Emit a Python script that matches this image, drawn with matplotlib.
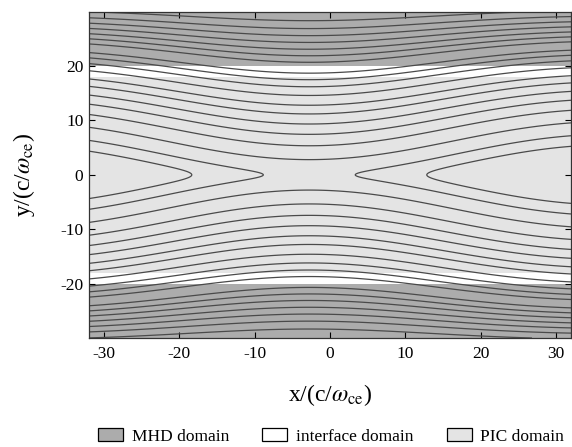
import matplotlib
matplotlib.use("Agg")
import matplotlib.pyplot as plt
import numpy as np
from matplotlib.patches import Patch

plt.rcParams["font.family"] = ["Liberation Serif", "DejaVu Serif"]
plt.rcParams["mathtext.fontset"] = "stix"
plt.rcParams["axes.unicode_minus"] = False

# y where the field lines cross the X-line column (upper half, mirrored below)
xline_crossing_y = [2.8, 5.35, 7.45, 9.35, 11.2, 12.8, 14.6, 16.2, 17.5, 18.7,
                    20.7, 21.9, 23.1, 24.35, 25.6, 26.9, 28.35]
# noses (at y = 0) of the field lines that do not go over the X-point
island_tip_x = [-18.4, -8.8, 3.4, 12.8]

domain_labels = ["MHD domain", "interface domain", "PIC domain"]
domain_colors = ["#acacac", "white", "#e4e4e4"]
pic_edge = 18.0   # |y| where PIC domain ends
mhd_edge = 20.0   # |y| where MHD domain starts

x_ticks = [-30, -20, -10, 0, 10, 20, 30]
y_ticks = [-20, -10, 0, 10, 20]

# shape of the flux function (Harris sheet + X-point perturbation)
sheet_width = 1.0
perturb_amp = 3.7
wavelength = 80.0
decay_length = 70.0
x_point = sum(island_tip_x) / len(island_tip_x)


def flux(x, y):
    sheet = sheet_width * np.log(np.cosh(y / sheet_width))
    pert = perturb_amp * np.cos(2 * np.pi * (x - x_point) / wavelength) * np.cos(np.pi * y / decay_length)
    return sheet + pert


half_tips = [(island_tip_x[3] - island_tip_x[0]) / 2, (island_tip_x[2] - island_tip_x[1]) / 2]
levels = sorted([float(flux(x_point + d, 0.0)) for d in half_tips]
                + [float(flux(x_point, y)) for y in xline_crossing_y])

xs = np.linspace(-32, 32, 801)
ys = np.linspace(-30, 30, 751)
X, Y = np.meshgrid(xs, ys)
psi = flux(X, Y)

fig = plt.figure(figsize=(5.72, 4.47), dpi=100)
ax = fig.add_axes([89 / 572, 1 - 338 / 447, (571 - 89) / 572, (338 - 11.7) / 447])

ax.axhspan(mhd_edge, 30, color=domain_colors[0], lw=0, zorder=0)
ax.axhspan(-30, -mhd_edge, color=domain_colors[0], lw=0, zorder=0)
ax.axhspan(-pic_edge, pic_edge, color=domain_colors[2], lw=0, zorder=0)

ax.contour(X, Y, psi, levels=levels, colors="#4a4a4a", linewidths=0.9, linestyles="solid", zorder=2)

ax.set_xlim(-32, 32)
ax.set_ylim(-30, 30)
ax.set_xticks(x_ticks)
ax.set_yticks(y_ticks)
ax.tick_params(direction="in", top=True, right=True, length=4, width=0.8, labelsize=12.5)
ax.tick_params(axis="x", pad=6)
ax.tick_params(axis="y", pad=4)
for sp in ax.spines.values():
    sp.set_linewidth(0.9)
    sp.set_color("#333333")

ax.set_xlabel(r"x/(c/$\omega_{\mathrm{ce}}$)", fontsize=17)
ax.set_ylabel(r"y/(c/$\omega_{\mathrm{ce}}$)", fontsize=17)
ax.xaxis.set_label_coords(0.5, -0.135)
ax.yaxis.set_label_coords(-0.108, 0.5)

handles = [Patch(facecolor=c, edgecolor="black", linewidth=0.9) for c in domain_colors]
fig.legend(handles, domain_labels, loc="center left", bbox_to_anchor=(98 / 572, 0.024),
           ncol=3, frameon=False, fontsize=12.5, borderpad=0, borderaxespad=0,
           handlelength=1.45, handleheight=0.8, handletextpad=0.5, columnspacing=1.9)

fig.savefig("out.png", dpi=100)
